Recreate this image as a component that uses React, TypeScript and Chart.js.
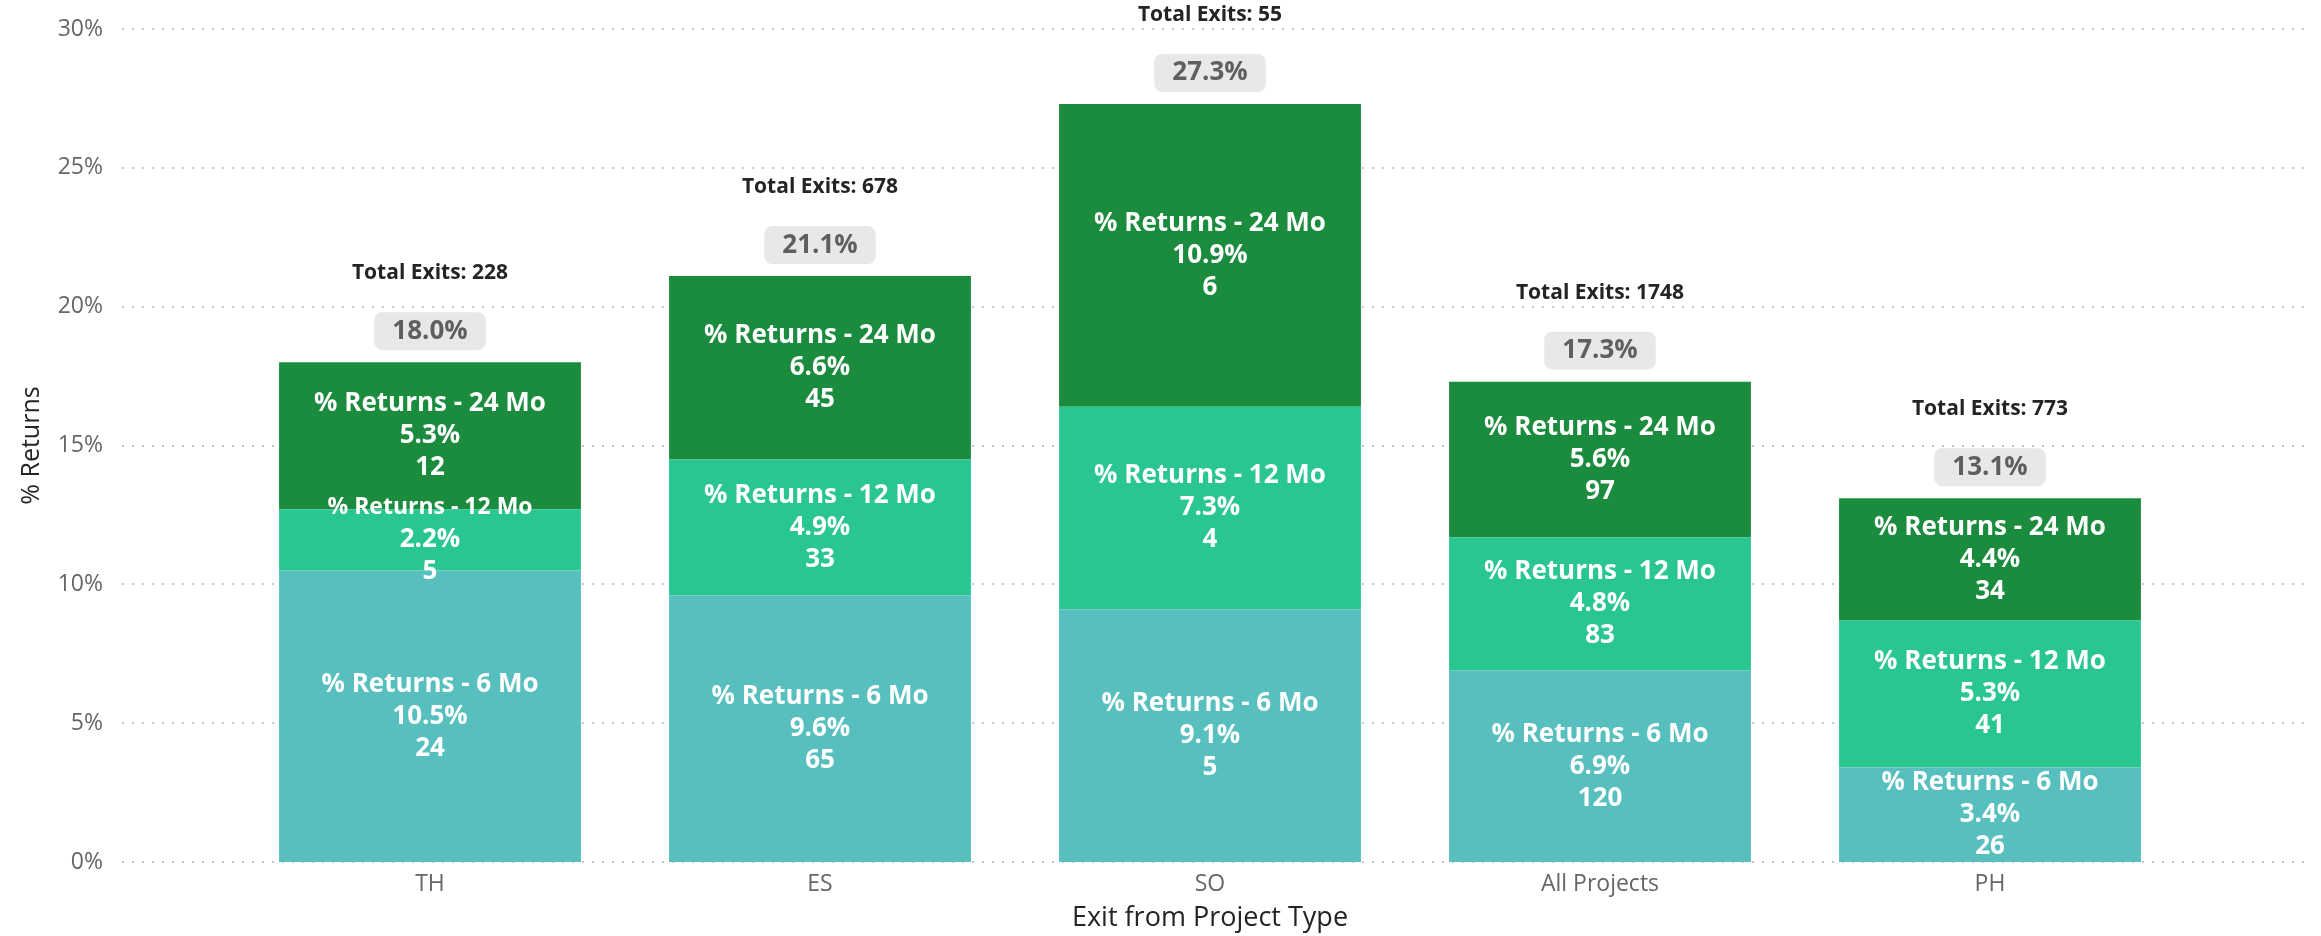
import React, { useEffect, useRef } from "react";
import { Chart, registerables } from "chart.js";

Chart.register(...registerables);

const categories = ["TH", "ES", "SO", "All Projects", "PH"];
const seriesNames = ["% Returns - 6 Mo", "% Returns - 12 Mo", "% Returns - 24 Mo"];
const returns6 = [10.5, 9.6, 9.1, 6.9, 3.4];
const returns12 = [2.2, 4.9, 7.3, 4.8, 5.3];
const returns24 = [5.3, 6.6, 10.9, 5.6, 4.4];
const counts6 = [24, 65, 5, 120, 26];
const counts12 = [5, 33, 4, 83, 41];
const counts24 = [12, 45, 6, 97, 34];
const totalReturns = [18.0, 21.1, 27.3, 17.3, 13.1];
const totalExits = [228, 678, 55, 1748, 773];
const yMin = 0;
const yMax = 30;
const yStep = 5;

const seriesColors = ["#57C0BF", "#2AC690", "#1B8B3E"];
const FONT = "'Open Sans', 'Noto Sans', sans-serif";

const gridPlugin = {
  id: "dottedGrid",
  beforeDatasetsDraw(chart: any) {
    const ctx = chart.ctx;
    const ys = chart.scales.y;
    ctx.save();
    ctx.fillStyle = "#C8C8C8";
    for (let v = yMin; v <= yMax; v += yStep) {
      const py = Math.round(ys.getPixelForValue(v));
      for (let x = 122; x <= 2304; x += 10) {
        ctx.fillRect(x, py - 1, 2, 2);
      }
    }
    ctx.restore();
  },
};

const labelPlugin = {
  id: "segmentLabels",
  afterDatasetsDraw(chart: any) {
    const ctx = chart.ctx;
    const values = [returns6, returns12, returns24];
    const counts = [counts6, counts12, counts24];
    ctx.save();
    ctx.textAlign = "center";
    ctx.textBaseline = "middle";
    for (let d = 0; d < 3; d++) {
      const meta = chart.getDatasetMeta(d);
      meta.data.forEach((el: any, j: number) => {
        const cy = (el.y + el.base) / 2;
        const h = Math.abs(el.base - el.y);
        const lh = 32;
        ctx.fillStyle = "#FFFFFF";
        ctx.font = `bold ${h < 70 ? 23 : 26}px ${FONT}`;
        ctx.fillText(seriesNames[d], el.x, cy - lh);
        ctx.font = `bold 26px ${FONT}`;
        ctx.fillText(values[d][j].toFixed(1) + "%", el.x, cy);
        ctx.fillText(String(counts[d][j]), el.x, cy + lh);
      });
    }
    const topMeta = chart.getDatasetMeta(2);
    topMeta.data.forEach((el: any, j: number) => {
      const top = el.y;
      const txt = totalReturns[j].toFixed(1) + "%";
      ctx.font = `bold 26px ${FONT}`;
      const w = ctx.measureText(txt).width + 36;
      const bh = 38;
      const bx = el.x - w / 2;
      const by = top - 31 - bh / 2;
      ctx.fillStyle = "#E8E8E8";
      ctx.beginPath();
      (ctx as any).roundRect(bx, by, w, bh, 8);
      ctx.fill();
      ctx.fillStyle = "#5F5F5F";
      ctx.fillText(txt, el.x, top - 31);
      ctx.font = `bold 21px ${FONT}`;
      ctx.fillStyle = "#252423";
      ctx.fillText("Total Exits: " + totalExits[j], el.x, top - 89);
    });
    ctx.restore();
  },
};

export default function App() {
  const ref = useRef<HTMLCanvasElement>(null);
  useEffect(() => {
    if (!ref.current) return;
    const dataArrays = [returns6, returns12, returns24];
    const chart = new Chart(ref.current, {
      type: "bar",
      data: {
        labels: categories,
        datasets: dataArrays.map((arr, i) => ({
          label: seriesNames[i],
          data: arr,
          backgroundColor: seriesColors[i],
          borderWidth: 0,
          barPercentage: 0.774,
          categoryPercentage: 1,
        })),
      },
      options: {
        animation: false,
        responsive: false,
        layout: { padding: { top: 29, right: 136, bottom: 0, left: 0 } },
        plugins: {
          legend: { display: false },
          tooltip: { enabled: false },
        },
        scales: {
          x: {
            stacked: true,
            offset: true,
            grid: { display: false, drawTicks: false },
            border: { display: false },
            ticks: { padding: 9, color: "#666666", font: { family: FONT, size: 23 } },
            title: {
              display: true,
              text: "Exit from Project Type",
              color: "#252423",
              font: { family: FONT, size: 27 },
              padding: { top: 0, bottom: 1 },
            },
            afterFit: (s: any) => {
              s.height = 74;
              s.paddingLeft = 0;
              s.paddingRight = 0;
            },
          },
          y: {
            stacked: true,
            min: yMin,
            max: yMax,
            grid: { display: false, drawTicks: false },
            border: { display: false },
            ticks: {
              stepSize: yStep,
              padding: 132,
              color: "#666666",
              font: { family: FONT, size: 23 },
              callback: (v: any) => v + "%",
            },
            title: {
              display: true,
              text: "% Returns",
              color: "#252423",
              font: { family: FONT, size: 25 },
              padding: { top: 17, bottom: 0 },
            },
            afterFit: (s: any) => {
              s.width = 235;
              s.paddingTop = 0;
              s.paddingBottom = 0;
            },
          },
        },
      },
      plugins: [gridPlugin, labelPlugin],
    });
    return () => chart.destroy();
  }, []);
  return (
    <div style={{ position: "fixed", left: 0, top: 0, width: 2321, height: 936, background: "#fff" }}>
      <canvas ref={ref} width={2321} height={936} style={{ width: 2321, height: 936 }} />
    </div>
  );
}
